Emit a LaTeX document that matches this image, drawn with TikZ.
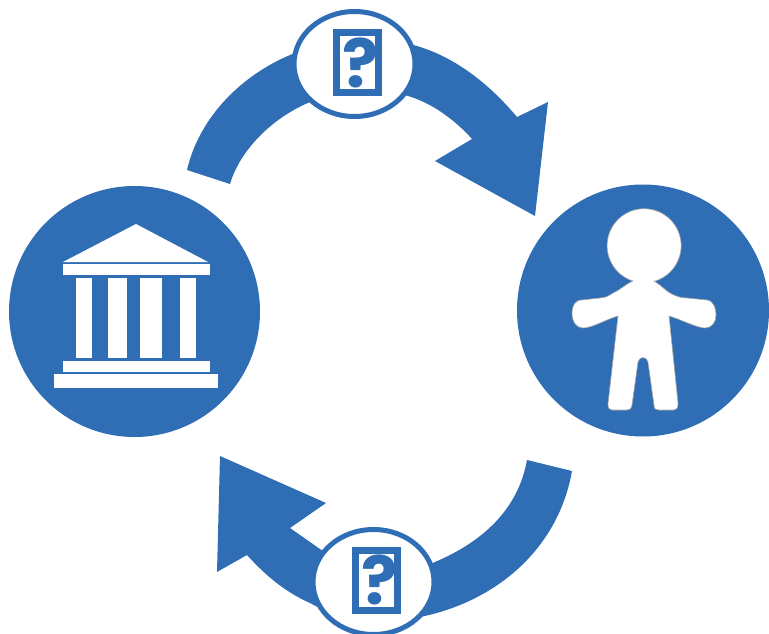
\documentclass[tikz,border=0pt]{standalone}
\usepackage{fontspec}
\setmainfont{Poppins}
\definecolor{bl}{HTML}{2F6EB5}
\usetikzlibrary{shapes.geometric}
\tikzset{
  disc/.style={circle,fill=bl,inner sep=0pt,minimum size=#1},
  bubble/.style={ellipse,draw=bl,line width=5pt,fill=white,inner sep=0pt,minimum width=121pt,minimum height=105pt},
  card/.style={rectangle,draw=bl,line width=7pt,fill=white,inner sep=0pt,minimum width=42pt,minimum height=60pt},
  qmark/.style={text=bl,inner sep=0pt,font=\fontsize{67}{67}\selectfont\bfseries},
  wht/.style={fill=white}
}
\begin{document}
\begin{tikzpicture}[x=1pt,y=-1pt]
\useasboundingbox (0,0) rectangle (769,634);
\clip (0,0) rectangle (769,634);
% top arrow
\fill[bl] (230,184) -- (187,170)
  .. controls (198,122) and (236,78) .. (290,55)
  .. controls (330,38) and (380,35) .. (417,46)
  .. controls (457,58) and (490,85) .. (517,117)
  -- (548,102) -- (535,216) -- (435,161) -- (472,139)
  .. controls (455,120) and (432,103) .. (408,96)
  .. controls (375,86) and (340,88) .. (310,102)
  .. controls (272,118) and (240,150) .. (230,184) -- cycle;
% bottom arrow
\fill[bl] (527,460) -- (572,471)
  .. controls (558,550) and (495,602) .. (420,617)
  .. controls (380,624) and (340,620) .. (310,603)
  .. controls (285,592) and (265,575) .. (247,555)
  -- (217,572) -- (220,456) -- (326,503) -- (290,528) -- (320,549)
  .. controls (355,572) and (400,578) .. (435,562)
  .. controls (482,542) and (518,510) .. (527,460) -- cycle;
% bank
\node[disc=251pt] (bank) at (134.5,311.5) {};
\fill[wht] (136,224) -- (208,262) -- (63,262) -- cycle;
\fill[wht] (63,264) rectangle (210,275);
\fill[wht] (76,278) rectangle (92,358);
\fill[wht] (108,278) rectangle (127,358);
\fill[wht] (140,278) rectangle (162,358);
\fill[wht] (180,278) rectangle (196,358);
\fill[wht] (63,361) rectangle (210,372);
\fill[wht] (54,374) rectangle (218,388);
% person
\node[disc=252pt] (person) at (643,310.5) {};
\path[wht,draw=gray!70,line width=.6pt] (633,281)
  arc[start angle=107.5,end angle=434,radius=37]
  .. controls (662,286) and (666,291) .. (670,293)
  .. controls (677,297) and (682,298) .. (687,298)
  -- (707,300) .. controls (714,301) and (716,309) .. (716,315)
  .. controls (716,322) and (712,328) .. (705,328)
  .. controls (697,328) and (680,319) .. (669,316)
  -- (678,403) .. controls (678,408) and (677,410) .. (674,410)
  -- (659,410) .. controls (656,410) and (654,409) .. (654,405)
  -- (648,362) .. controls (647,356) and (639,356) .. (638,362)
  -- (632,405) .. controls (631,409) and (630,410) .. (627,410)
  -- (612,410) .. controls (609,410) and (608,408) .. (608,404)
  -- (618,316) .. controls (607,319) and (592,328) .. (583,328)
  .. controls (576,328) and (572,321) .. (572,313)
  .. controls (572,306) and (575,300) .. (582,300)
  -- (600,298) .. controls (606,298) and (610,295) .. (613,293)
  .. controls (620,290) and (626,284) .. (633,281) -- cycle;
% bubbles
\node[bubble] (q1) at (354.5,64) {};
\node[card] (c1) at (357.5,63) {};
\node[qmark] (m1) at (361,63) {?};
\node[bubble] (q2) at (373.5,582) {};
\node[card] (c2) at (376.5,580) {};
\node[qmark] (m2) at (380,580) {?};
\end{tikzpicture}
\end{document}
